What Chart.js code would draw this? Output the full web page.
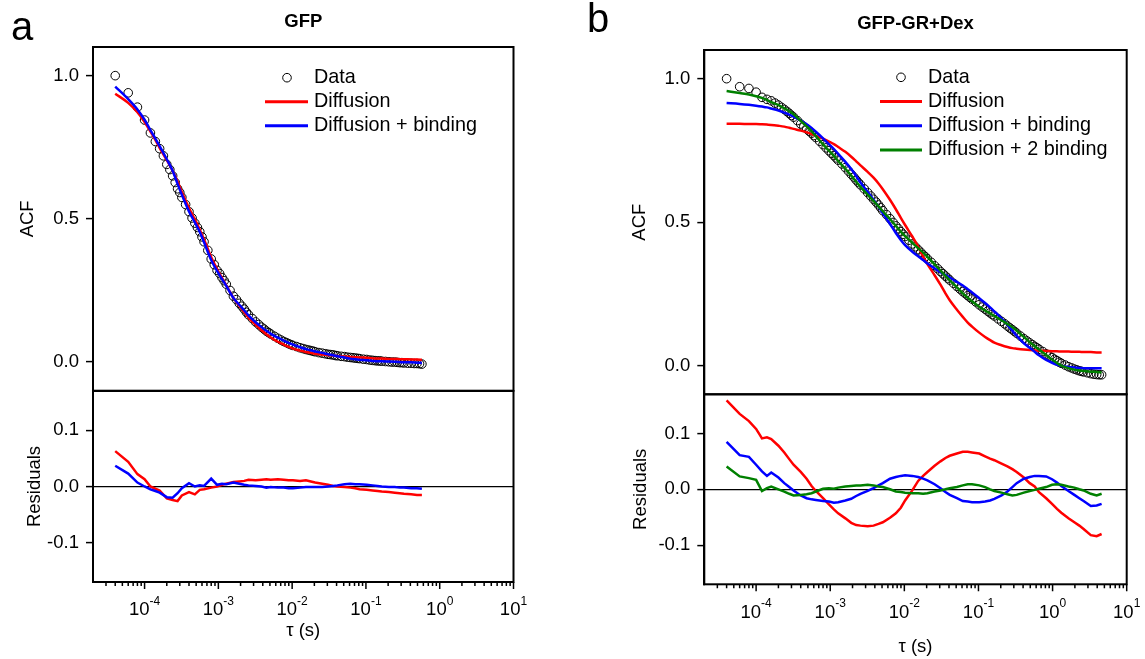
<!DOCTYPE html>
<html>
<head>
<meta charset="utf-8">
<script src="https://cdn.jsdelivr.net/npm/chart.js@4.4.1/dist/chart.umd.min.js"></script>
<style>
html, body { margin: 0; padding: 0; background: #fff; }
body { width: 1145px; height: 659px; position: relative; overflow: hidden; font-family: 'Liberation Sans', Arial, sans-serif; }
.box { position: absolute; }
.lbl { position: absolute; font-size: 40px; line-height: 40px; color: #000; }
</style>
</head>
<body>
<div class="box" style="left:0;top:0;width:540px;height:401px"><canvas id="aTop"></canvas></div>
<div class="box" style="left:0;top:381px;width:540px;height:261px"><canvas id="aRes"></canvas></div>
<div class="box" style="left:600px;top:0;width:545px;height:404px"><canvas id="bTop"></canvas></div>
<div class="box" style="left:600px;top:384px;width:545px;height:275px"><canvas id="bRes"></canvas></div>
<div class="lbl" style="left:11px;top:6px">a</div>
<div class="lbl" style="left:587px;top:-2px">b</div>
<script>
// ---------- data ----------
// measured points (circles)
const tauDataA = [4e-5,6e-5,8e-5,1e-4,1.2e-4,1.4e-4,1.6e-4,1.8e-4,2e-4,2.2e-4,2.4e-4,2.6e-4,2.8e-4,3e-4,3.2e-4,3.6e-4,4e-4,4.4e-4,4.8e-4,5.2e-4,5.6e-4,6e-4,6.4e-4,7.2e-4,8e-4,8.8e-4,9.6e-4,1.04e-3,1.12e-3,1.2e-3,1.28e-3,1.44e-3,1.6e-3,1.76e-3,1.92e-3,2.08e-3,2.24e-3,2.4e-3,2.56e-3,2.88e-3,3.2e-3,3.52e-3,3.84e-3,4.16e-3,4.48e-3,4.8e-3,5.12e-3,5.76e-3,6.4e-3,7.04e-3,7.68e-3,8.32e-3,8.96e-3,9.6e-3,1.024e-2,1.152e-2,1.28e-2,1.408e-2,1.536e-2,1.664e-2,1.792e-2,1.92e-2,2.048e-2,2.304e-2,2.56e-2,2.816e-2,3.072e-2,3.328e-2,3.584e-2,3.84e-2,4.096e-2,4.608e-2,5.12e-2,5.632e-2,6.144e-2,6.656e-2,7.168e-2,7.68e-2,8.192e-2,9.216e-2,0.1024,0.1126,0.1229,0.1331,0.1434,0.1536,0.1638,0.1843,0.2048,0.2253,0.2458,0.2662,0.2867,0.3072,0.3277,0.3686,0.4096,0.4506,0.4915,0.5325,0.5734];
const acfA = [1.0,0.94,0.89,0.845,0.80,0.77,0.745,0.72,0.69,0.672,0.65,0.627,0.605,0.592,0.575,0.55,0.525,0.503,0.485,0.47,0.455,0.437,0.42,0.39,0.36,0.34,0.32,0.309,0.295,0.284,0.272,0.25,0.23,0.218,0.205,0.195,0.185,0.174,0.165,0.152,0.14,0.131,0.122,0.115,0.108,0.103,0.098,0.09,0.083,0.077,0.072,0.068,0.064,0.061,0.058,0.054,0.050,0.047,0.044,0.042,0.040,0.038,0.036,0.033,0.031,0.029,0.027,0.026,0.025,0.023,0.022,0.020,0.019,0.017,0.016,0.015,0.014,0.013,0.012,0.010,0.009,0.007,0.006,0.005,0.004,0.004,0.003,0.002,0.001,0.0,0.0,-0.001,-0.002,-0.002,-0.003,-0.004,-0.004,-0.005,-0.005,-0.006,-0.007];
const tauDataB = [4e-5,6e-5,8e-5,1e-4,1.2e-4,1.4e-4,1.6e-4,1.8e-4,2e-4,2.2e-4,2.4e-4,2.6e-4,2.8e-4,3e-4,3.2e-4,3.6e-4,4e-4,4.4e-4,4.8e-4,5.2e-4,5.6e-4,6e-4,6.4e-4,7.2e-4,8e-4,8.8e-4,9.6e-4,1.04e-3,1.12e-3,1.2e-3,1.28e-3,1.44e-3,1.6e-3,1.76e-3,1.92e-3,2.08e-3,2.24e-3,2.4e-3,2.56e-3,2.88e-3,3.2e-3,3.52e-3,3.84e-3,4.16e-3,4.48e-3,4.8e-3,5.12e-3,5.76e-3,6.4e-3,7.04e-3,7.68e-3,8.32e-3,8.96e-3,9.6e-3,1.024e-2,1.152e-2,1.28e-2,1.408e-2,1.536e-2,1.664e-2,1.792e-2,1.92e-2,2.048e-2,2.304e-2,2.56e-2,2.816e-2,3.072e-2,3.328e-2,3.584e-2,3.84e-2,4.096e-2,4.608e-2,5.12e-2,5.632e-2,6.144e-2,6.656e-2,7.168e-2,7.68e-2,8.192e-2,9.216e-2,0.1024,0.1126,0.1229,0.1331,0.1434,0.1536,0.1638,0.1843,0.2048,0.2253,0.2458,0.2662,0.2867,0.3072,0.3277,0.3686,0.4096,0.4506,0.4915,0.5325,0.5734,0.6144,0.6554,0.7373,0.8192,0.9011,0.983,1.065,1.147,1.229,1.311,1.475,1.638,1.802,1.966,2.13,2.294,2.458,2.621,2.949,3.277,3.604,3.932,4.26,4.588];
const acfB = [1.0,0.972,0.966,0.953,0.935,0.928,0.923,0.915,0.908,0.9,0.893,0.886,0.879,0.872,0.866,0.854,0.842,0.833,0.825,0.817,0.81,0.802,0.795,0.782,0.77,0.759,0.749,0.74,0.732,0.724,0.716,0.703,0.69,0.678,0.667,0.657,0.647,0.638,0.63,0.616,0.603,0.591,0.58,0.57,0.56,0.55,0.54,0.526,0.512,0.499,0.487,0.477,0.467,0.458,0.45,0.437,0.424,0.414,0.404,0.395,0.386,0.379,0.372,0.36,0.348,0.338,0.328,0.32,0.312,0.305,0.298,0.287,0.276,0.267,0.258,0.251,0.244,0.238,0.232,0.222,0.212,0.204,0.197,0.19,0.184,0.178,0.173,0.163,0.154,0.146,0.138,0.131,0.125,0.119,0.113,0.103,0.094,0.086,0.079,0.073,0.067,0.062,0.057,0.049,0.041,0.034,0.028,0.022,0.017,0.012,0.008,0.002,-0.004,-0.008,-0.012,-0.015,-0.018,-0.02,-0.022,-0.025,-0.028,-0.03,-0.031,-0.032,-0.032];

// fitted curves and residuals
const tauA = [4e-5,6e-5,8e-5,1e-4,1.2e-4,1.4e-4,1.6e-4,2e-4,2.4e-4,2.8e-4,3.2e-4,4e-4,4.8e-4,5.6e-4,6.4e-4,8e-4,9.6e-4,1.12e-3,1.28e-3,1.6e-3,1.92e-3,2.24e-3,2.56e-3,3.2e-3,3.84e-3,4.48e-3,5.12e-3,6.4e-3,7.68e-3,8.96e-3,1.024e-2,1.28e-2,1.536e-2,1.792e-2,2.048e-2,2.56e-2,3.072e-2,3.584e-2,4.096e-2,5.12e-2,6.144e-2,7.168e-2,8.192e-2,0.1024,0.1229,0.1434,0.1638,0.2048,0.2458,0.2867,0.3277,0.4096,0.4915,0.5734];
const diffFitA = [0.937,0.905,0.872,0.838,0.805,0.776,0.748,0.705,0.668,0.630,0.594,0.538,0.498,0.462,0.428,0.366,0.325,0.294,0.268,0.224,0.197,0.175,0.155,0.130,0.111,0.097,0.086,0.071,0.061,0.053,0.047,0.040,0.035,0.032,0.029,0.026,0.024,0.023,0.021,0.019,0.018,0.017,0.016,0.015,0.013,0.012,0.012,0.011,0.011,0.010,0.010,0.009,0.009,0.008];
const bindFitA = [0.962,0.918,0.882,0.846,0.810,0.780,0.754,0.708,0.668,0.622,0.584,0.526,0.488,0.454,0.418,0.356,0.318,0.290,0.266,0.224,0.200,0.181,0.163,0.139,0.122,0.109,0.099,0.085,0.075,0.067,0.061,0.052,0.045,0.041,0.037,0.032,0.027,0.024,0.020,0.016,0.012,0.010,0.008,0.006,0.004,0.003,0.003,0.002,0.001,0.0,-0.001,-0.001,-0.002,-0.003];
const diffResA = [0.063,0.044,0.022,0.013,0.0,-0.004,-0.007,-0.021,-0.024,-0.026,-0.016,-0.01,-0.014,-0.006,-0.005,-0.002,0.0,0.003,0.005,0.008,0.009,0.01,0.012,0.011,0.012,0.013,0.012,0.013,0.012,0.011,0.011,0.010,0.011,0.009,0.007,0.005,0.003,0.001,0.0,-0.001,-0.002,-0.003,-0.005,-0.006,-0.007,-0.008,-0.009,-0.010,-0.011,-0.012,-0.013,-0.014,-0.015,-0.015];
const bindResA = [0.037,0.023,0.007,0.0,-0.005,-0.008,-0.011,-0.019,-0.02,-0.012,-0.003,0.006,0.0,0.002,0.001,0.014,0.003,0.005,0.004,0.007,0.005,0.003,0.002,0.001,0.0,-0.002,-0.001,-0.002,-0.002,-0.003,-0.003,-0.002,-0.001,-0.001,-0.001,-0.001,0.0,0.001,0.002,0.004,0.005,0.004,0.004,0.003,0.002,0.001,0.0,-0.001,-0.001,-0.002,-0.002,-0.003,-0.003,-0.004];

const tauB = [4e-5,6e-5,8e-5,1e-4,1.2e-4,1.4e-4,1.6e-4,2e-4,2.4e-4,2.8e-4,3.2e-4,4e-4,4.8e-4,5.6e-4,6.4e-4,8e-4,9.6e-4,1.12e-3,1.28e-3,1.6e-3,1.92e-3,2.24e-3,2.56e-3,3.2e-3,3.84e-3,4.48e-3,5.12e-3,6.4e-3,7.68e-3,8.96e-3,1.024e-2,1.28e-2,1.536e-2,1.792e-2,2.048e-2,2.56e-2,3.072e-2,3.584e-2,4.096e-2,5.12e-2,6.144e-2,7.168e-2,8.192e-2,0.1024,0.1229,0.1434,0.1638,0.2048,0.2458,0.2867,0.3277,0.4096,0.4915,0.5734,0.6554,0.8192,0.983,1.147,1.311,1.638,1.966,2.294,2.621,3.277,3.932,4.588];
const diffFitB = [0.843,0.843,0.842,0.842,0.841,0.840,0.839,0.836,0.833,0.829,0.825,0.819,0.813,0.807,0.801,0.791,0.781,0.772,0.762,0.745,0.728,0.712,0.698,0.675,0.655,0.635,0.615,0.578,0.545,0.515,0.49,0.45,0.415,0.38,0.354,0.315,0.282,0.252,0.228,0.195,0.17,0.15,0.136,0.115,0.1,0.089,0.08,0.071,0.065,0.061,0.059,0.056,0.054,0.053,0.052,0.051,0.05,0.05,0.049,0.049,0.048,0.048,0.047,0.047,0.046,0.046];
const bindFitB = [0.915,0.912,0.909,0.906,0.903,0.9,0.896,0.889,0.882,0.875,0.868,0.854,0.841,0.828,0.815,0.792,0.772,0.755,0.738,0.71,0.685,0.661,0.638,0.606,0.578,0.554,0.531,0.494,0.462,0.438,0.42,0.397,0.381,0.368,0.356,0.339,0.326,0.316,0.307,0.292,0.279,0.266,0.255,0.235,0.218,0.203,0.189,0.165,0.143,0.122,0.104,0.078,0.062,0.048,0.036,0.02,0.01,0.003,-0.001,-0.005,-0.007,-0.008,-0.009,-0.009,-0.009,-0.009];
const bind2FitB = [0.957,0.950,0.945,0.939,0.933,0.926,0.918,0.908,0.897,0.887,0.876,0.853,0.834,0.817,0.8,0.771,0.749,0.731,0.713,0.686,0.662,0.641,0.623,0.596,0.574,0.555,0.538,0.511,0.487,0.467,0.451,0.428,0.409,0.394,0.379,0.353,0.331,0.313,0.297,0.273,0.252,0.237,0.224,0.205,0.192,0.182,0.173,0.158,0.145,0.134,0.122,0.1,0.082,0.068,0.056,0.037,0.021,0.009,0.0,-0.009,-0.014,-0.017,-0.019,-0.021,-0.022,-0.024];
const diffResB = [0.159,0.135,0.122,0.108,0.091,0.093,0.09,0.078,0.066,0.054,0.044,0.031,0.019,0.006,-0.003,-0.016,-0.027,-0.036,-0.043,-0.052,-0.06,-0.064,-0.065,-0.066,-0.065,-0.062,-0.059,-0.051,-0.043,-0.033,-0.02,-0.002,0.015,0.024,0.031,0.042,0.05,0.056,0.06,0.064,0.067,0.067,0.066,0.064,0.059,0.055,0.052,0.046,0.041,0.036,0.031,0.021,0.011,0.005,-0.005,-0.016,-0.026,-0.035,-0.042,-0.052,-0.059,-0.065,-0.071,-0.082,-0.084,-0.08];
const bindResB = [0.085,0.061,0.058,0.044,0.032,0.024,0.03,0.021,0.011,0.004,-0.002,-0.011,-0.016,-0.018,-0.019,-0.021,-0.022,-0.024,-0.023,-0.02,-0.017,-0.012,-0.008,-0.003,0.002,0.007,0.011,0.019,0.022,0.024,0.025,0.024,0.022,0.019,0.016,0.009,0.002,-0.005,-0.01,-0.016,-0.021,-0.022,-0.023,-0.023,-0.022,-0.02,-0.017,-0.011,-0.004,0.004,0.011,0.019,0.022,0.024,0.024,0.023,0.018,0.012,0.006,-0.003,-0.01,-0.016,-0.021,-0.03,-0.029,-0.026];
const bind2ResB = [0.041,0.023,0.02,0.017,-0.003,0.002,0.005,0.0,-0.004,-0.008,-0.011,-0.01,-0.009,-0.007,-0.004,0.001,0.002,0.001,0.003,0.005,0.006,0.007,0.007,0.008,0.007,0.005,0.004,0.0,-0.004,-0.005,-0.006,-0.007,-0.007,-0.008,-0.007,-0.004,-0.002,0.0,0.002,0.004,0.007,0.009,0.009,0.007,0.004,0.0,-0.003,-0.006,-0.009,-0.011,-0.01,-0.006,-0.003,-0.001,0.001,0.004,0.008,0.009,0.008,0.005,0.003,0.0,-0.002,-0.008,-0.011,-0.008];

// ticks
const xMajorTicks = [1e-4, 1e-3, 1e-2, 1e-1, 1, 10];
const xTickBase = '10';
const xTickExponents = ['-4', '-3', '-2', '-1', '0', '1'];
const xMinorMultipliers = [2, 3, 4, 5, 6, 7, 8, 9];
const yTicksTop = [0, 0.5, 1.0];
const yTickLabelsTop = ['0.0', '0.5', '1.0'];
const yTicksRes = [-0.1, 0, 0.1];
const yTickLabelsRes = ['-0.1', '0.0', '0.1'];

const seriesNames = { data: 'Data', diff: 'Diffusion', bind: 'Diffusion + binding', bind2: 'Diffusion + 2 binding' };
const titles = { a: 'GFP', b: 'GFP-GR+Dex' };

// ---------- styling ----------
const FONT = "'Liberation Sans', Arial, sans-serif";
const FS = 18.5;
const LEG_FS = 19.8;
Chart.defaults.font.family = FONT;
Chart.defaults.font.size = FS;
Chart.defaults.color = '#000';
const RED = '#FF0000', BLUE = '#0000FF', GREEN = '#008000';

function pts(xs, ys) { return xs.map((x, i) => ({ x: x, y: ys[i] })); }

const framePlugin = {
  id: 'frame',
  afterDraw(chart, args, o) {
    const ctx = chart.ctx, a = chart.chartArea;
    ctx.save();
    ctx.strokeStyle = '#000';
    ctx.lineWidth = 2;
    ctx.strokeRect(a.left, a.top, a.right - a.left, a.bottom - a.top);
    if (o.xAxis) {
      const s = chart.scales.x;
      ctx.lineWidth = 1.5;
      ctx.beginPath();
      const minor = [];
      [1e-5].concat(xMajorTicks).forEach(d => xMinorMultipliers.forEach(m => minor.push(d * m)));
      minor.forEach(v => {
        if (v <= s.min * 1.0001 || v >= s.max) return;
        const p = s.getPixelForValue(v);
        ctx.moveTo(p, a.bottom); ctx.lineTo(p, a.bottom + 4);
      });
      xMajorTicks.forEach(v => {
        const p = s.getPixelForValue(v);
        ctx.moveTo(p, a.bottom); ctx.lineTo(p, a.bottom + 7);
      });
      ctx.stroke();
      ctx.fillStyle = '#000';
      ctx.textAlign = 'left';
      ctx.textBaseline = 'alphabetic';
      xMajorTicks.forEach((v, i) => {
        const p = s.getPixelForValue(v);
        ctx.font = FS + 'px ' + FONT;
        const wb = ctx.measureText(xTickBase).width;
        ctx.font = '12px ' + FONT;
        const we = ctx.measureText(xTickExponents[i]).width;
        const x0 = p - (wb + we) / 2;
        ctx.font = FS + 'px ' + FONT;
        ctx.fillText(xTickBase, x0, a.bottom + o.labelBase);
        ctx.font = '12px ' + FONT;
        ctx.fillText(xTickExponents[i], x0 + wb, a.bottom + o.labelBase - o.expRaise);
      });
    }
    ctx.restore();
  }
};

const legendPlugin = {
  id: 'innerLegend',
  afterDraw(chart, args, o) {
    if (!o.show) return;
    const ctx = chart.ctx, a = chart.chartArea;
    const ds = chart.data.datasets.slice().reverse();
    ctx.save();
    ctx.font = LEG_FS + 'px ' + FONT;
    ctx.textBaseline = 'middle';
    ctx.textAlign = 'left';
    ds.forEach((d, i) => {
      const y = a.top + o.y0 + i * o.dy;
      if (d.isData) {
        ctx.beginPath();
        ctx.lineWidth = 1;
        ctx.strokeStyle = '#000';
        ctx.arc(a.left + o.markX, y, 4.3, 0, Math.PI * 2);
        ctx.stroke();
      } else {
        ctx.beginPath();
        ctx.lineWidth = 3;
        ctx.strokeStyle = d.borderColor;
        ctx.moveTo(a.left + o.lineX0, y);
        ctx.lineTo(a.left + o.lineX1, y);
        ctx.stroke();
      }
      ctx.fillStyle = '#000';
      ctx.fillText(d.label, a.left + o.textX, y);
    });
    ctx.restore();
  }
};

function fitDs(label, xs, ys, color) {
  return { label: label, data: pts(xs, ys), borderColor: color, backgroundColor: color, showLine: true,
           pointRadius: 0, borderWidth: 2.5, cubicInterpolationMode: 'monotone', fill: false };
}
function resDs(label, xs, ys, color) {
  return { label: label, data: pts(xs, ys), borderColor: color, backgroundColor: color, showLine: true,
           pointRadius: 0, borderWidth: 2.5, tension: 0, fill: false };
}
function dataDs(xs, ys) {
  return { label: seriesNames.data, isData: true, data: pts(xs, ys), showLine: false, pointRadius: 4.3,
           pointBorderWidth: 1, pointBorderColor: '#000', pointBackgroundColor: 'rgba(0,0,0,0)' };
}

function noPad(s) { s.paddingTop = 0; s.paddingBottom = 0; s.paddingLeft = 0; s.paddingRight = 0; }

function yScale(min, max, ticks, labels, title, titlePad, width, zeroLine) {
  return {
    type: 'linear', min: min, max: max, position: 'left',
    afterBuildTicks: s => { s.ticks = ticks.map(v => ({ value: v })); },
    afterFit: s => { s.width = width; noPad(s); },
    ticks: { padding: 7, callback: (v, i) => labels[i], font: { size: FS } },
    grid: { display: true, drawOnChartArea: zeroLine, drawTicks: true, tickLength: 7, tickWidth: 1.5,
            tickColor: '#000', lineWidth: 1.2,
            color: c => (zeroLine && c.tick && c.tick.value === 0) ? '#000' : 'rgba(0,0,0,0)' },
    border: { display: true, color: '#000', width: 2 },
    title: { display: true, text: title, padding: { top: titlePad, bottom: 0 }, font: { size: FS } }
  };
}
function xScale(show, height) {
  const s = { type: 'logarithmic', min: 2e-5, max: 10, display: show,
              ticks: { display: false }, grid: { display: false }, border: { display: false } };
  if (show) {
    s.afterFit = sc => { sc.height = height; noPad(sc); };
    s.title = { display: true, text: 'τ (s)', padding: { top: 0, bottom: 0 }, font: { size: FS } };
  }
  return s;
}

function baseOpts() {
  return { responsive: true, maintainAspectRatio: false, animation: false, events: [], devicePixelRatio: 1 };
}

// Panel a – ACF
new Chart(document.getElementById('aTop'), {
  type: 'scatter',
  data: { datasets: [ fitDs(seriesNames.bind, tauA, bindFitA, BLUE), fitDs(seriesNames.diff, tauA, diffFitA, RED), dataDs(tauDataA, acfA) ] },
  options: Object.assign(baseOpts(), {
    layout: { autoPadding: false, padding: { left: 0, top: 0, right: 26.5, bottom: 10.3 } },
    scales: { x: xScale(false), y: yScale(-0.1, 1.1, yTicksTop, yTickLabelsTop, 'ACF', 16.9, 93, false) },
    plugins: {
      legend: { display: false }, tooltip: { enabled: false },
      title: { display: true, text: titles.a, fullSize: false, font: { size: FS, weight: 'bold' }, padding: { top: 10.6, bottom: 14.2 } },
      frame: { xAxis: false },
      innerLegend: { show: true, y0: 30.7, dy: 24, markX: 194, lineX0: 172, lineX1: 215, textX: 221 }
    }
  }),
  plugins: [framePlugin, legendPlugin]
});

// Panel a – residuals
new Chart(document.getElementById('aRes'), {
  type: 'scatter',
  data: { datasets: [ resDs(seriesNames.bind, tauA, bindResA, BLUE), resDs(seriesNames.diff, tauA, diffResA, RED) ] },
  options: Object.assign(baseOpts(), {
    layout: { autoPadding: false, padding: { left: 0, top: 10, right: 26.5, bottom: 0 } },
    scales: { x: xScale(true, 60), y: yScale(-0.17, 0.17, yTicksRes, yTickLabelsRes, 'Residuals', 23.4, 93, true) },
    plugins: { legend: { display: false }, tooltip: { enabled: false },
      frame: { xAxis: true, labelBase: 32.5, expRaise: 10 }, innerLegend: { show: false } }
  }),
  plugins: [framePlugin, legendPlugin]
});

// Panel b – ACF
new Chart(document.getElementById('bTop'), {
  type: 'scatter',
  data: { datasets: [ fitDs(seriesNames.bind2, tauB, bind2FitB, GREEN), fitDs(seriesNames.bind, tauB, bindFitB, BLUE),
                      fitDs(seriesNames.diff, tauB, diffFitB, RED), dataDs(tauDataB, acfB) ] },
  options: Object.assign(baseOpts(), {
    layout: { autoPadding: false, padding: { left: 0, top: 0, right: 18.3, bottom: 9.7 } },
    scales: { x: xScale(false), y: yScale(-0.1, 1.1, yTicksTop, yTickLabelsTop, 'ACF', 28.9, 104.3, false) },
    plugins: {
      legend: { display: false }, tooltip: { enabled: false },
      title: { display: true, text: titles.b, fullSize: false, font: { size: FS, weight: 'bold' }, padding: { top: 12.9, bottom: 14.9 } },
      frame: { xAxis: false },
      innerLegend: { show: true, y0: 27.3, dy: 24.2, markX: 196.7, lineX0: 175.7, lineX1: 217.7, textX: 223.7 }
    }
  }),
  plugins: [framePlugin, legendPlugin]
});

// Panel b – residuals
new Chart(document.getElementById('bRes'), {
  type: 'scatter',
  data: { datasets: [ resDs(seriesNames.bind2, tauB, bind2ResB, GREEN), resDs(seriesNames.bind, tauB, bindResB, BLUE),
                      resDs(seriesNames.diff, tauB, diffResB, RED) ] },
  options: Object.assign(baseOpts(), {
    layout: { autoPadding: false, padding: { left: 0, top: 10.3, right: 18.3, bottom: 0.7 } },
    scales: { x: xScale(true, 74), y: yScale(-0.17, 0.17, yTicksRes, yTickLabelsRes, 'Residuals', 29.9, 104.3, true) },
    plugins: { legend: { display: false }, tooltip: { enabled: false },
      frame: { xAxis: true, labelBase: 34, expRaise: 11 }, innerLegend: { show: false } }
  }),
  plugins: [framePlugin, legendPlugin]
});
</script>
</body>
</html>
